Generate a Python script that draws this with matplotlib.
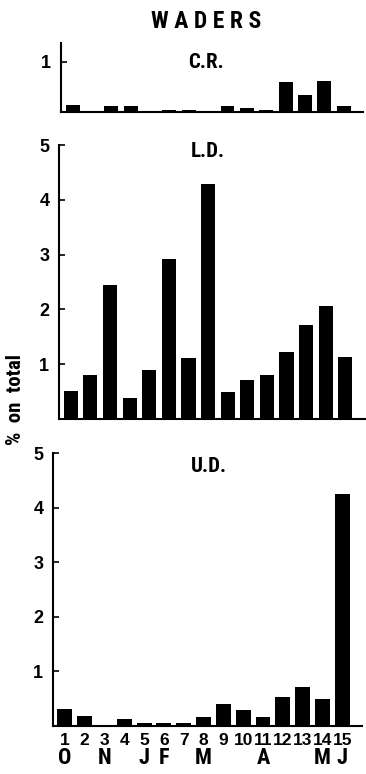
import os
import matplotlib
matplotlib.use("Agg")
import matplotlib.pyplot as plt
from matplotlib import font_manager
from matplotlib.font_manager import FontProperties

periods = list(range(1, 16))
period_labels = [str(p) for p in periods]
month_labels = ["O", "", "N", "", "J", "F", "", "M", "", "", "A", "", "", "M", "J"]

cr_values = [0.13, 0.0, 0.11, 0.11, 0.0, 0.05, 0.05, 0.0, 0.11, 0.08, 0.04, 0.59, 0.34, 0.61, 0.11]
ld_values = [0.52, 0.80, 2.44, 0.38, 0.90, 2.92, 1.12, 4.29, 0.49, 0.72, 0.80, 1.23, 1.72, 2.07, 1.13]
ud_values = [0.32, 0.18, 0.01, 0.12, 0.05, 0.05, 0.05, 0.16, 0.40, 0.30, 0.16, 0.53, 0.72, 0.49, 4.25]


def find_condensed():
    prefs = ["robotocondensed-bold", "liberationsansnarrow-bold", "notosans-condensedbold",
             "dejavusanscondensed-bold", "opensans-condensedbold", "opensanscondensed-bold",
             "notosans-extracondensedbold", "roboto_condensed-bold"]
    files = {os.path.basename(f.fname).lower().rsplit(".", 1)[0]: f.fname
             for f in font_manager.fontManager.ttflist}
    for p in prefs:
        if p in files:
            return FontProperties(fname=files[p])
    for f in font_manager.fontManager.ttflist:
        b = os.path.basename(f.fname).lower()
        if ("condensed" in b or "narrow" in b) and "bold" in b and "italic" not in b and "semi" not in b and "extra" not in b:
            return FontProperties(fname=f.fname)
    return FontProperties(family="DejaVu Sans", weight="bold")


cond_fp = find_condensed()

W, H = 366, 774
fig = plt.figure(figsize=(W / 100, H / 100), dpi=100)

num_font = dict(family="Liberation Sans", weight="bold")


def ctext(obj, x, y, s, size, **kw):
    fp = cond_fp.copy()
    fp.set_size(size)
    return obj.text(x, y, s, fontproperties=fp, **kw)


def px_axes(left, top, right, bottom):
    return fig.add_axes([left / W, 1 - bottom / H, (right - left) / W, (bottom - top) / H])


def style(ax, ylim, yticks):
    ax.set_xlim(0.4, 16.0)
    ax.set_ylim(*ylim)
    for s in ("top", "right"):
        ax.spines[s].set_visible(False)
    for s in ("left", "bottom"):
        ax.spines[s].set_linewidth(1.5)
        ax.spines[s].set_color("black")
    ax.set_yticks(yticks)
    ax.set_yticklabels([str(t) for t in yticks], fontsize=13, **num_font)
    ax.tick_params(axis="y", direction="in", length=4, width=1.2, pad=7)
    ax.set_xticks([])


ax1 = px_axes(61, 43, 363, 112)
ax1.bar(periods, cr_values, width=0.72, color="black")
style(ax1, (0, 1.38), [1])
ctext(ax1, 0.48, 0.72, "C.R.", 15, transform=ax1.transAxes, ha="center", va="center")

ax2 = px_axes(59, 145, 365, 419)
ax2.bar(periods, ld_values, width=0.72, color="black")
style(ax2, (0, 5), [1, 2, 3, 4, 5])
ctext(ax2, 0.485, 0.975, "L.D.", 15, transform=ax2.transAxes, ha="center", va="center")

ax3 = px_axes(53, 453, 362, 726)
ax3.bar(periods, ud_values, width=0.75, color="black")
style(ax3, (0, 5), [1, 2, 3, 4, 5])
ctext(ax3, 0.505, 0.95, "U.D.", 15, transform=ax3.transAxes, ha="center", va="center")
ax3.set_xticks(periods)
ax3.set_xticklabels(period_labels, fontsize=12.5, **num_font)
ax3.tick_params(axis="x", length=0, pad=5)
for p, m in zip(periods, month_labels):
    if m:
        ctext(ax3, p, -0.58, m, 16, ha="center", va="center")

ctext(fig, 206 / W, 1 - 22 / H, "W A D E R S", 17, ha="center", va="center")
ctext(fig, 16 / W, 1 - 400 / H, "%  on  total", 15, rotation=90, ha="center", va="center")

fig.savefig("out.png", dpi=100)
